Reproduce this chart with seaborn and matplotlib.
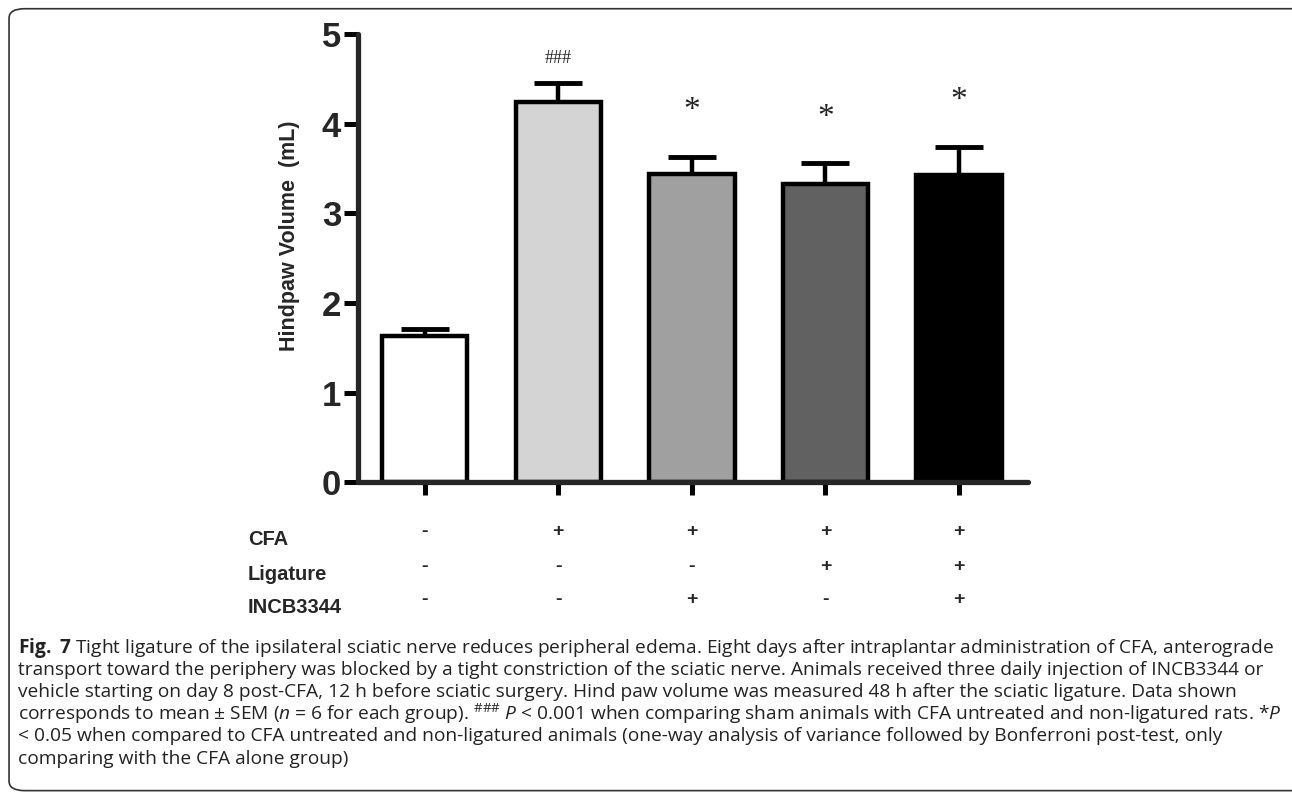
import numpy as np
import pandas as pd
import seaborn as sns
import matplotlib.pyplot as plt
import matplotlib.transforms as mtransforms
from matplotlib.patches import FancyBboxPatch

# Data
groups = ["Sham", "CFA", "CFA+INCB", "CFA+Lig", "CFA+Lig+INCB"]
volume_mean = [1.63, 4.24, 3.44, 3.33, 3.43]
volume_sem = [0.08, 0.21, 0.19, 0.23, 0.31]
signif = ["", "###", "*", "*", "*"]
bar_colors = ["#ffffff", "#d4d4d4", "#a0a0a0", "#616161", "#000000"]

row_labels = ["CFA", "Ligature", "INCB3344"]
cfa = ["-", "+", "+", "+", "+"]
ligature = ["-", "-", "-", "+", "+"]
incb = ["-", "-", "+", "-", "+"]

caption_lines = [
    r"$\mathbf{Fig.\ 7}$ Tight ligature of the ipsilateral sciatic nerve reduces peripheral edema. Eight days after intraplantar administration of CFA, anterograde",
    "transport toward the periphery was blocked by a tight constriction of the sciatic nerve. Animals received three daily injection of INCB3344 or",
    "vehicle starting on day 8 post-CFA, 12 h before sciatic surgery. Hind paw volume was measured 48 h after the sciatic ligature. Data shown",
    r"corresponds to mean ± SEM ($\mathit{n}$ = 6 for each group). $^{\#\#\#}$ $\mathit{P}$ < 0.001 when comparing sham animals with CFA untreated and non-ligatured rats. *$\mathit{P}$",
    "< 0.05 when compared to CFA untreated and non-ligatured animals (one-way analysis of variance followed by Bonferroni post-test, only",
    "comparing with the CFA alone group)",
]

df = pd.DataFrame({"group": groups, "volume": volume_mean, "sem": volume_sem})

sns.set_style("ticks")
plt.rcParams["font.family"] = ["Liberation Sans", "DejaVu Sans"]
plt.rcParams["mathtext.fontset"] = "custom"
plt.rcParams["mathtext.rm"] = "Open Sans"
plt.rcParams["mathtext.it"] = "Open Sans:italic"
plt.rcParams["mathtext.bf"] = "Open Sans:bold"

fig = plt.figure(figsize=(12.92, 7.93), dpi=100)
ax = fig.add_axes([0.277, 0.392, 0.519, 0.565])

sns.barplot(data=df, x="group", y="volume", hue="group", palette=bar_colors,
            width=0.64, edgecolor="black", linewidth=3.2, errorbar=None,
            legend=False, ax=ax, zorder=2)

x = np.arange(len(groups))
ax.errorbar(x, df["volume"], yerr=[np.zeros(len(groups)), df["sem"]], fmt="none",
            ecolor="black", elinewidth=3.2, capsize=17, capthick=3.5, zorder=1,
            clip_on=False)

for i, s in enumerate(signif):
    if not s:
        continue
    top = volume_mean[i] + volume_sem[i]
    if s == "###":
        ax.annotate(s, (i, top), xytext=(0, 12), textcoords="offset points",
                    ha="center", va="bottom", fontsize=13,
                    family=["Liberation Serif", "DejaVu Serif"], color="#222222")
    else:
        ax.annotate(s, (i, top), xytext=(0, 22), textcoords="offset points",
                    ha="center", va="bottom", fontsize=24,
                    family=["Liberation Serif", "DejaVu Serif"], color="#222222")

ax.set_ylim(0, 5)
ax.set_xlim(-0.5, 4.52)
ax.set_yticks([0, 1, 2, 3, 4, 5])
ax.set_xticks(x)
ax.set_xticklabels([])
ax.set_xlabel("")
ax.set_ylabel("Hindpaw Volume  (mL)", fontsize=15.5, fontweight="bold")
ax.yaxis.set_label_coords(-0.087, 0.551)
for lab in ax.get_yticklabels():
    lab.set_fontweight("bold")
    lab.set_fontsize(25)
ax.tick_params(axis="both", width=3.6, length=10, color="black", pad=2)
ax.tick_params(axis="x", length=9)
for side in ["left", "bottom"]:
    ax.spines[side].set_linewidth(3.8)
    ax.spines[side].set_capstyle("round")
sns.despine(ax=ax)

# Treatment table below the axis
trans = mtransforms.blended_transform_factory(ax.transData, fig.transFigure)
row_y = [0.330, 0.286, 0.244]
for label, yy, row in zip(row_labels, row_y, [cfa, ligature, incb]):
    fig.text(0.192, yy - 0.01, label, fontsize=14.5, fontweight="bold", va="center")
    for i, s in enumerate(row):
        ax.text(i, yy, s, transform=trans, ha="center", va="center",
                fontsize=14, fontweight="bold")

# Caption
for k, line in enumerate(caption_lines):
    fig.text(0.014, 0.1825 - k * 0.0278, line, fontsize=13.75, family="Open Sans",
             color="#222222", va="center")

# Rounded frame
frame = FancyBboxPatch((0.007, 0.003), 1.02, 0.986, boxstyle="round,pad=0,rounding_size=0.012",
                       transform=fig.transFigure, fill=False, edgecolor="#333333",
                       linewidth=1.2, clip_on=False)
fig.patches.append(frame)

fig.savefig("out.png", dpi=100)
